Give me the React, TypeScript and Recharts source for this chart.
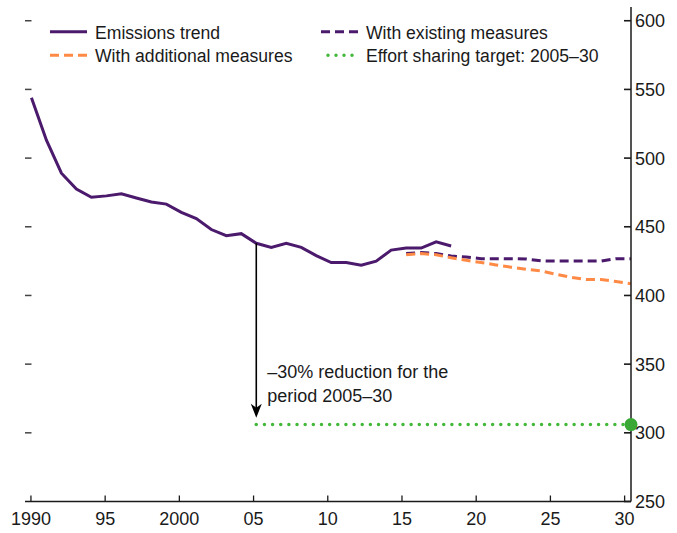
import React from 'react';
import { LineChart, Line, XAxis, YAxis, ReferenceLine, Legend } from 'recharts';

// emissions trend, 1990-2018
const emissionYears = [
  1990, 1991, 1992, 1993, 1994, 1995, 1996, 1997, 1998, 1999, 2000, 2001, 2002, 2003, 2004,
  2005, 2006, 2007, 2008, 2009, 2010, 2011, 2012, 2013, 2014, 2015, 2016, 2017, 2018,
];
const emissionValues = [
  544, 513, 489, 477.5, 471.5, 472.5, 474, 471, 468, 466.5, 460.5, 456, 448, 443.5, 445,
  438, 435, 438, 435, 429, 424, 424, 422, 425, 433, 434.5, 434.5, 439, 436,
];

// projections, 2015-2030
const projectionYears = [
  2015, 2016, 2017, 2018, 2019, 2020, 2021, 2022, 2023, 2024, 2025, 2026, 2027, 2028, 2029, 2030,
];
const existingValues = [
  430.5, 431.2, 430.5, 428.7, 428, 426.8, 426.8, 426.7, 426.6, 425.2, 425, 425, 425, 425, 426.8, 426.8,
];
const additionalValues = [
  429.7, 430.5, 429.7, 427.4, 425.6, 424, 422.2, 420.6, 419, 417.9, 415.4, 413.2, 411.7, 411.6, 410.1, 408.6,
];

// effort sharing target
const targetYears = [2005, 2030];
const targetValues = [306, 306];

const arrowYear = 2005;
const arrowTipValue = 311;
const annotationLines = ['\u201330% reduction for the', 'period 2005\u201330'];

const xTicks = [1990, 1995, 2000, 2005, 2010, 2015, 2020, 2025, 2030];
const yTicks = [250, 300, 350, 400, 450, 500, 550, 600];
const leftTicks = [300, 350, 400, 450, 500, 550, 600];

const W = 677;
const H = 533;
const FONT = '"Liberation Sans", Arial, Helvetica, sans-serif';
const INK = '#1a1a1a';
const PURPLE = '#4b1a6c';
const ORANGE = '#ff8a45';
const GREEN = '#44b83a';
const GREEN_DOT = '#3aa835';

const toRows = (years: number[], values: number[]) =>
  years.map((year, i) => ({ year, value: values[i] }));

const emissionsData = toRows(emissionYears, emissionValues);
const existingData = toRows(projectionYears, existingValues);
const additionalData = toRows(projectionYears, additionalValues);
const targetData = toRows(targetYears, targetValues);

const legendItems = [
  { label: 'Emissions trend', color: PURPLE, dash: undefined as string | undefined, dotted: false },
  { label: 'With existing measures', color: PURPLE, dash: '9 5', dotted: false },
  { label: 'With additional measures', color: ORANGE, dash: '9 5', dotted: false },
  { label: 'Effort sharing target: 2005\u201330', color: GREEN, dash: '0 8', dotted: true },
];

const formatYear = (v: number) => (v % 100 === 90 || v === 2000 ? String(v) : String(v % 100).padStart(2, '0'));

const BottomTick = (props: any) => {
  const { x, y, payload } = props;
  return (
    <g>
      <line x1={x} y1={y} x2={x} y2={y - 6} stroke={INK} strokeWidth={1.3} />
      <text x={x} y={y + 23.5} textAnchor="middle" fontSize={18} fontFamily={FONT} fill={INK}>
        {formatYear(payload.value)}
      </text>
    </g>
  );
};

const RightTick = (props: any) => {
  const { x, y, payload } = props;
  return (
    <g>
      <rect x={x - 7} y={y - 0.8} width={7} height={1.6} fill={INK} />
      <text x={x + 4} y={y + 6.5} textAnchor="start" fontSize={18} fontFamily={FONT} fill={INK}>
        {payload.value}
      </text>
    </g>
  );
};

const LeftTick = (props: any) => {
  const { x, y } = props;
  return <path d={`M${x},${y}H${x + 6.5}`} stroke="#444" strokeWidth={1.5} fill="none" />;
};

const ArrowShape = (props: any) => {
  const { x1, y1, x2, y2 } = props;
  return (
    <g>
      <line x1={x1} y1={y1} x2={x2} y2={y2 - 8} stroke="#000" strokeWidth={1.6} />
      <path d={`M${x2},${y2} L${x2 - 5.5},${y2 - 14} L${x2},${y2 - 10} L${x2 + 5.5},${y2 - 14} Z`} fill="#000" />
      {annotationLines.map((t, i) => (
        <text key={t} x={x2 + 11} y={y2 - 40 + i * 24} fontSize={18} fontFamily={FONT} fill={INK}>
          {t}
        </text>
      ))}
    </g>
  );
};

const LegendBox = () => {
  const colX = [50, 321];
  const rowY = [31.7, 55.3];
  return (
    <svg width={W} height={70} style={{ display: 'block' }}>
      {legendItems.map((item, i) => {
        const lx = colX[i % 2];
        const ly = rowY[Math.floor(i / 2)];
        return (
          <g key={item.label}>
            <line
              x1={item.dotted ? lx + 7 : lx}
              y1={ly}
              x2={lx + 37}
              y2={ly}
              stroke={item.color}
              strokeWidth={item.dotted ? 3.5 : 3}
              strokeDasharray={item.dash}
              strokeLinecap={item.dotted ? 'round' : 'butt'}
            />
            <text x={lx + 45} y={ly + 7} fontSize={17.6} fontFamily={FONT} fill={INK}>
              {item.label}
            </text>
          </g>
        );
      })}
    </svg>
  );
};

export default function App() {
  const value2005 = emissionValues[emissionYears.indexOf(arrowYear)];
  return (
    <div style={{ position: 'absolute', left: 0, top: 0, width: W, height: H, background: '#fff' }}>
      <LineChart width={W} height={H} data={emissionsData} margin={{ top: 7, right: 0, bottom: 0, left: 0 }}>
        <XAxis xAxisId="data" type="number" dataKey="year" domain={[1989.57, 2030]} hide height={0} />
        <XAxis
          xAxisId="ticks"
          type="number"
          dataKey="year"
          domain={[1989.6, 2030.43]}
          ticks={xTicks}
          allowDataOverflow
          interval={0}
          height={31.5}
          tickLine={false}
          tickSize={0}
          tickMargin={0}
          axisLine={{ stroke: INK, strokeWidth: 1.5 }}
          tick={BottomTick}
        />
        <YAxis
          yAxisId="left"
          orientation="left"
          width={25}
          domain={[250, 610]}
          ticks={leftTicks}
          allowDataOverflow
          interval={0}
          axisLine={false}
          tickLine={false}
          tickSize={0}
          tickMargin={0}
          tick={LeftTick}
        />
        <YAxis
          yAxisId="right"
          orientation="right"
          width={46}
          domain={[250, 610]}
          ticks={yTicks}
          interval={0}
          tickLine={false}
          tickSize={0}
          tickMargin={0}
          axisLine={{ stroke: INK, strokeWidth: 1.5 }}
          tick={RightTick}
        />
        <Legend
          verticalAlign="middle"
          align="center"
          layout="horizontal"
          wrapperStyle={{ position: 'absolute', left: 0, top: 0, width: W, height: 70 }}
          content={() => <LegendBox />}
        />
        {/* invisible carrier so the label-only axes get a scale */}
        <Line
          xAxisId="ticks"
          yAxisId="left"
          data={targetData}
          dataKey="value"
          stroke="none"
          dot={false}
          activeDot={false}
          legendType="none"
          isAnimationActive={false}
        />
        <Line
          xAxisId="data"
          yAxisId="right"
          data={existingData}
          dataKey="value"
          name="With existing measures"
          stroke={PURPLE}
          strokeWidth={3}
          strokeDasharray="9 5"
          dot={false}
          activeDot={false}
          isAnimationActive={false}
        />
        <Line
          xAxisId="data"
          yAxisId="right"
          data={additionalData}
          dataKey="value"
          name="With additional measures"
          stroke={ORANGE}
          strokeWidth={3}
          strokeDasharray="9 5"
          dot={false}
          activeDot={false}
          isAnimationActive={false}
        />
        <Line
          xAxisId="data"
          yAxisId="right"
          data={targetData}
          dataKey="value"
          name="Effort sharing target: 2005-30"
          stroke={GREEN}
          strokeWidth={3.5}
          strokeDasharray="0 8.15"
          strokeLinecap="round"
          dot={(p: any) =>
            p.index === targetValues.length - 1 ? (
              <circle key="target-end" cx={p.cx} cy={p.cy} r={6.5} fill={GREEN_DOT} />
            ) : (
              <g key={`target-${p.index}`} />
            )
          }
          activeDot={false}
          isAnimationActive={false}
        />
        <Line
          xAxisId="data"
          yAxisId="right"
          data={emissionsData}
          dataKey="value"
          name="Emissions trend"
          stroke={PURPLE}
          strokeWidth={3}
          dot={false}
          activeDot={false}
          isAnimationActive={false}
        />
        <ReferenceLine
          xAxisId="data"
          yAxisId="right"
          segment={[
            { x: arrowYear, y: value2005 },
            { x: arrowYear, y: arrowTipValue },
          ]}
          ifOverflow="visible"
          shape={ArrowShape}
        />
      </LineChart>
    </div>
  );
}
